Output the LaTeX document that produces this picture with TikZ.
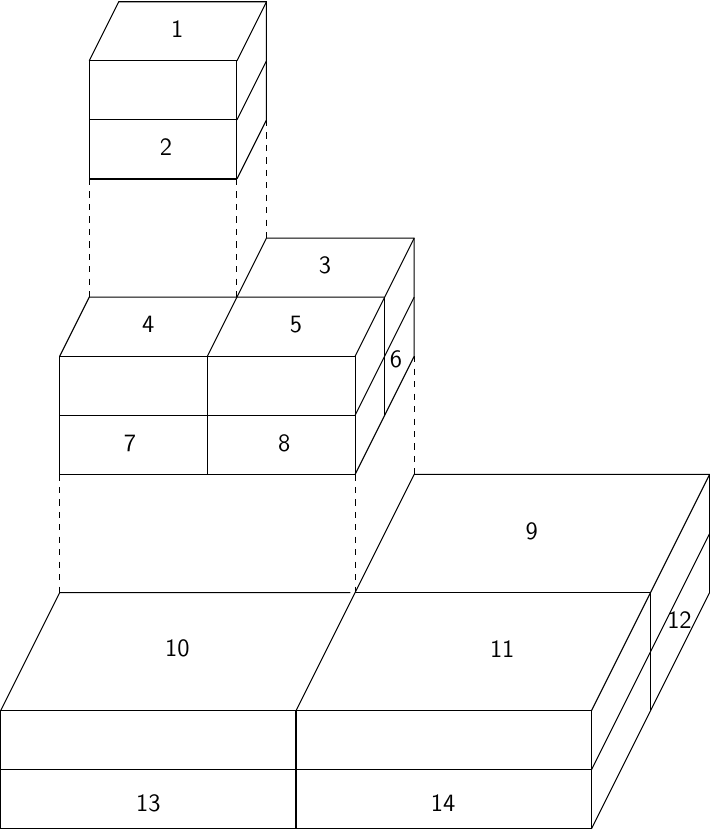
\documentclass[tikz,border=0pt]{standalone}
\usepackage{tikz}
\renewcommand{\familydefault}{\sfdefault}
\begin{document}
\begin{tikzpicture}[-,line width=0.5pt]
    \tikzstyle{num}=[inner sep=0pt,text=black,font=\large\sffamily]
    \tikzstyle{guide}=[dashed]

    \useasboundingbox (-0.01,-0.035) rectangle (12,14.03);

    % bottom layer
    \draw (0,0) rectangle (10,2);
    \draw (0,1) -- (10,1);
    \draw (5,0) -- (5,2);
    \draw (0,2) -- (1,4) -- (5.92,4);
    \draw (6,4) -- (11,4);
    \draw (5,2) -- (6,4) -- (7,6) -- (12,6) -- (12,4) -- (10,0);
    \draw (10,2) -- (12,6);
    \draw (10,1) -- (12,5);
    \draw (11,4) -- (11,2);

    % middle layer
    \draw (1,6) rectangle (6,8);
    \draw (1,7) -- (6,7);
    \draw (3.5,6) -- (3.5,8);
    \draw (1,8) -- (1.5,9) -- (6.5,9);
    \draw (3.5,8) -- (4,9) -- (4.5,10) -- (7,10) -- (7,8) -- (6,6);
    \draw (6,8) -- (7,10);
    \draw (6,7) -- (7,9);
    \draw (6.5,9) -- (6.5,7);

    % top layer
    \draw (1.5,11) rectangle (4,13);
    \draw (1.5,12) -- (4,12);
    \draw (1.5,13) -- (2,14) -- (4.5,14) -- (4.5,12) -- (4,11);
    \draw (4,13) -- (4.5,14);
    \draw (4,12) -- (4.5,13);

    % guides between layers
    \draw[guide] (1.5,11) -- (1.5,9);
    \draw[guide] (4,11) -- (4,9);
    \draw[guide] (4.5,12) -- (4.5,10);
    \draw[guide] (1,6) -- (1,4);
    \draw[guide] (6,6) -- (6,4);
    \draw[guide] (7,8) -- (7,6);

    \node[num] (n1)  at (2.99,13.54)   {1};
    \node[num] (n2)  at (2.8,11.54)    {2};
    \node[num] (n3)  at (5.49,9.54)    {3};
    \node[num] (n4)  at (2.5,8.54)     {4};
    \node[num] (n5)  at (5,8.54)       {5};
    \node[num] (n6)  at (6.69,7.94)    {6};
    \node[num] (n7)  at (2.19,6.52)    {7};
    \node[num] (n8)  at (4.8,6.52)     {8};
    \node[num] (n9)  at (8.99,5.04)    {9};
    \node[num] (n10) at (2.99,3.05)    {10};
    \node[num] (n11) at (8.49,3.05)    {11};
    \node[num] (n12) at (11.49,3.54)   {12};
    \node[num] (n13) at (2.5,0.44)     {13};
    \node[num] (n14) at (7.49,0.44)    {14};
\end{tikzpicture}
\end{document}
